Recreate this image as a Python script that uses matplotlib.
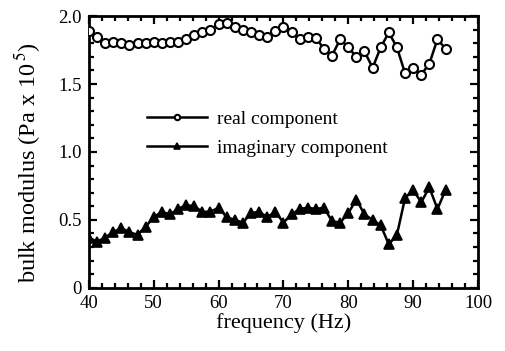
import numpy as np
import matplotlib
matplotlib.use("Agg")
import matplotlib.pyplot as plt
from matplotlib.ticker import MultipleLocator

plt.rcParams['font.family'] = ['Liberation Serif', 'DejaVu Serif']
plt.rcParams['mathtext.fontset'] = 'stix'

frequency = np.arange(45) * 1.25 + 40.0
real_component = [1.89, 1.85, 1.80, 1.81, 1.80, 1.79, 1.80, 1.80, 1.81, 1.80,
                  1.81, 1.81, 1.83, 1.86, 1.88, 1.90, 1.94, 1.95, 1.92, 1.90,
                  1.88, 1.86, 1.85, 1.89, 1.92, 1.88, 1.83, 1.85, 1.84, 1.76,
                  1.71, 1.83, 1.77, 1.70, 1.74, 1.62, 1.77, 1.88, 1.77, 1.58,
                  1.62, 1.57, 1.65, 1.83, 1.76]
imag_component = [0.37, 0.34, 0.37, 0.41, 0.44, 0.41, 0.39, 0.45, 0.52, 0.56,
                  0.54, 0.58, 0.61, 0.60, 0.56, 0.56, 0.59, 0.52, 0.50, 0.48,
                  0.55, 0.56, 0.52, 0.56, 0.48, 0.54, 0.58, 0.59, 0.58, 0.59,
                  0.49, 0.48, 0.55, 0.65, 0.54, 0.50, 0.46, 0.32, 0.39, 0.66,
                  0.72, 0.63, 0.74, 0.58, 0.72]
labels = ['real component', 'imaginary component']

fig = plt.figure(figsize=(5.05, 3.51), dpi=100)
ax = fig.add_axes([0.176, 0.18, 0.7705, 0.774])

ax.plot(frequency, real_component, color='black', lw=1.8, marker='o', ms=6.5,
        mfc='white', mec='black', mew=1.5, label=labels[0], zorder=3)
ax.plot(frequency, imag_component, color='black', lw=1.8, marker='^', ms=7,
        mfc='black', mec='black', mew=1.2, label=labels[1], zorder=3)

ax.set_xlim(40, 100)
ax.set_ylim(0, 2.0)
ax.xaxis.set_major_locator(MultipleLocator(10))
ax.xaxis.set_minor_locator(MultipleLocator(2))
ax.yaxis.set_major_locator(MultipleLocator(0.5))
ax.yaxis.set_minor_locator(MultipleLocator(0.1))
ax.set_yticks([0, 0.5, 1.0, 1.5, 2.0])
ax.set_yticklabels(['0', '0.5', '1.0', '1.5', '2.0'])
ax.tick_params(which='both', direction='in', top=True, right=True,
               labelsize=13.5, width=1.6)
ax.tick_params(which='major', length=6, pad=5)
ax.tick_params(which='minor', length=3.5)
for s in ax.spines.values():
    s.set_linewidth(2)

ax.set_xlabel('frequency (Hz)', fontsize=16, labelpad=1)
ax.set_ylabel('bulk modulus (Pa x 10$^{\\,5}$)', fontsize=17.5)
ax.yaxis.set_label_coords(-0.118, 0.46)

ax.legend(loc='upper left', bbox_to_anchor=(0.149, 0.652), frameon=False,
          borderpad=0, borderaxespad=0, markerscale=0.6,
          fontsize=14, handlelength=3.1, handletextpad=0.5, labelspacing=0.55)

fig.savefig('out.png', dpi=100)
